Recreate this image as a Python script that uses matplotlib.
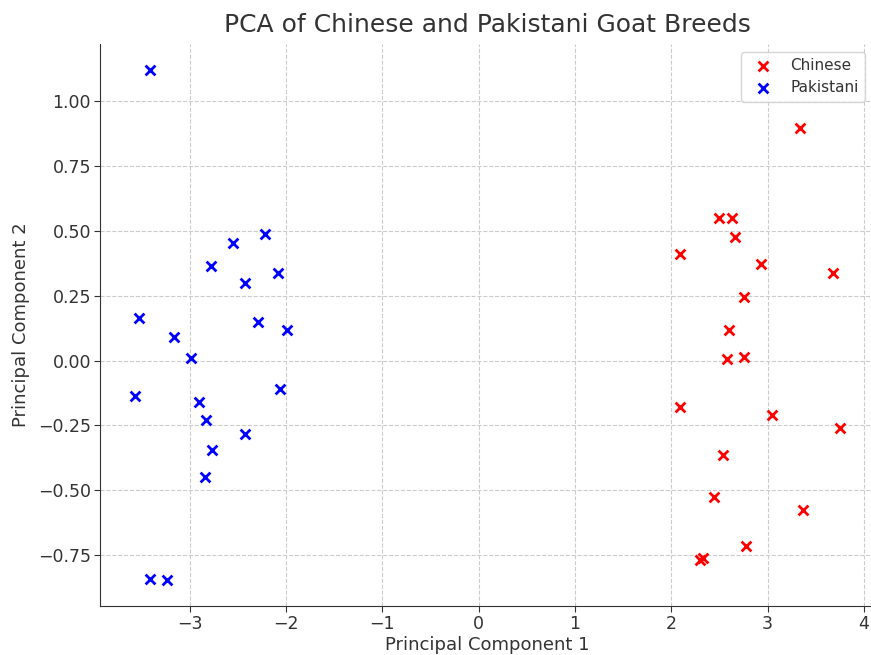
import matplotlib
matplotlib.use("Agg")
import matplotlib.pyplot as plt

# PCA scores for each breed group
chinese_pc1 = [3.34, 2.50, 2.63, 2.66, 2.095, 2.935, 3.675, 2.756, 2.597, 2.583,
               2.752, 2.095, 3.047, 3.75, 2.54, 2.44, 3.364, 2.78, 2.30, 2.334]
chinese_pc2 = [0.894, 0.548, 0.550, 0.477, 0.412, 0.372, 0.339, 0.246, 0.116, 0.006,
               0.012, -0.179, -0.209, -0.258, -0.362, -0.524, -0.576, -0.713, -0.767, -0.759]

pakistani_pc1 = [-3.41, -2.55, -2.217, -2.78, -2.08, -2.43, -3.53, -2.29, -3.16, -1.985,
                 -2.99, -3.565, -2.06, -2.90, -2.825, -2.427, -2.77, -2.845, -3.41, -3.24]
pakistani_pc2 = [1.121, 0.454, 0.488, 0.366, 0.339, 0.298, 0.164, 0.147, 0.091, 0.116,
                 0.009, -0.138, -0.111, -0.159, -0.228, -0.284, -0.343, -0.449, -0.841, -0.847]

text_color = "#333333"
plt.rcParams["font.family"] = "DejaVu Sans"
plt.rcParams["text.color"] = text_color
plt.rcParams["axes.labelcolor"] = text_color
plt.rcParams["xtick.color"] = text_color
plt.rcParams["ytick.color"] = text_color

fig = plt.figure(figsize=(8.71, 6.55), dpi=100)
ax = fig.add_axes([0.1148, 0.0748, 0.8898, 0.858])

ax.scatter(chinese_pc1, chinese_pc2, marker="x", color="red", s=50, linewidths=2,
           label="Chinese", zorder=3)
ax.scatter(pakistani_pc1, pakistani_pc2, marker="x", color="blue", s=50, linewidths=2,
           label="Pakistani", zorder=3)

ax.set_title("PCA of Chinese and Pakistani Goat Breeds", fontsize=18, color=text_color, pad=9)
ax.set_xlabel("Principal Component 1", fontsize=13, labelpad=2)
ax.set_ylabel("Principal Component 2", fontsize=13, labelpad=6)
ax.tick_params(labelsize=12.5, length=4, pad=2.5)

ax.grid(True, linestyle="--", color="#cccccc", linewidth=0.8)
ax.set_axisbelow(True)
for side in ("top", "right"):
    ax.spines[side].set_visible(False)
for side in ("left", "bottom"):
    ax.spines[side].set_color("#333333")

leg = ax.legend(loc="upper right", fontsize=11, bbox_to_anchor=(0.9965, 1.0))

fig.savefig("out.png", dpi=100)
